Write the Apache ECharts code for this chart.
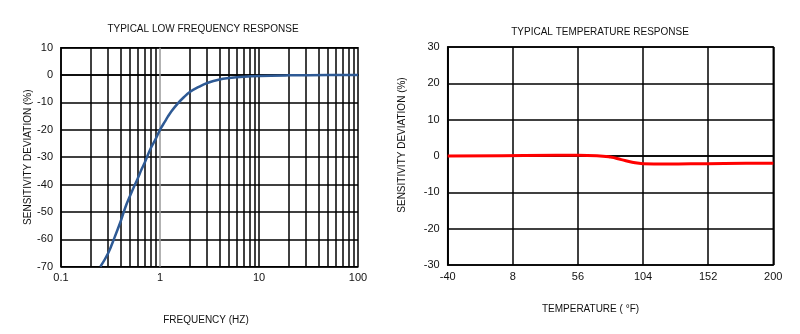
<!DOCTYPE html>
<html><head><meta charset="utf-8">
<script src="https://cdn.jsdelivr.net/npm/echarts@6/dist/echarts.min.js"></script>
<style>html,body{margin:0;padding:0;background:#fff}#c{width:800px;height:334px}</style>
</head><body><div id="c"></div>
<script>
// ---- Data ----
const freqTitle = 'TYPICAL LOW FREQUENCY RESPONSE';
const tempTitle = 'TYPICAL TEMPERATURE RESPONSE';
const freqHz = [0.25, 0.3, 0.35, 0.4, 0.45, 0.5, 0.55, 0.6, 0.65, 0.7, 0.8, 0.9, 1.0, 1.1, 1.2, 1.3, 1.5, 1.75, 2, 2.5, 3, 4, 5, 7, 10, 20, 50, 100];
const freqDev = [-70, -65, -59, -53.5, -48, -44, -40.5, -37.5, -34.5, -32, -27, -23.5, -20, -17.5, -15.2, -13.3, -10.5, -8, -6.2, -4.2, -2.9, -1.6, -1.1, -0.6, -0.3, -0.1, 0, 0];
const tempF = [-40, 0, 40, 56, 70, 80, 88, 96, 104, 120, 152, 180, 200];
const tempDev = [0, 0.1, 0.2, 0.2, 0.1, -0.3, -1.0, -1.7, -2.1, -2.2, -2.1, -2.0, -2.0];
const freqTicks = [0.1, 1, 10, 100];
const tempTicks = [-40, 8, 56, 104, 152, 200];
const TEMP_MIN = -40, TEMP_MAX = 200, TEMP_STEP = 48;

const font = 'Liberation Sans, Arial, sans-serif';
const chart = echarts.init(document.getElementById('c'));

// vertical log grid lines (2..9 of each decade, and the decade lines)
const vLines = [];
[0.1, 1, 10].forEach(d => {
  for (let k = 2; k <= 9; k++) vLines.push({ xAxis: +(d * k).toPrecision(3), lineStyle: { color: '#000', width: 1.5, type: 'solid' } });
});
vLines.push({ xAxis: 1, lineStyle: { color: '#999', width: 1.5, type: 'solid' } });
vLines.push({ xAxis: 10, lineStyle: { color: '#000', width: 1.5, type: 'solid' } });

chart.setOption({
  animation: false,
  backgroundColor: '#fff',
  textStyle: { fontFamily: font },
  title: [
    { text: freqTitle, left: 198, top: 19, textAlign: 'center', textStyle: { fontSize: 10, fontWeight: 'normal', color: '#111', fontFamily: font } },
    { text: tempTitle, left: 595, top: 22, textAlign: 'center', textStyle: { fontSize: 10, fontWeight: 'normal', color: '#111', fontFamily: font } }
  ],
  grid: [
    { left: 61, right: 442, top: 47.7, bottom: 67.3, show: true, borderColor: '#000', borderWidth: 1.5 },
    { left: 447.7, right: 26.7, top: 47, bottom: 69, show: true, borderColor: '#000', borderWidth: 1.5 }
  ],
  xAxis: [
    {
      type: 'log', logBase: 10, gridIndex: 0, min: 0.1, max: 100,
      name: 'FREQUENCY (HZ)', nameLocation: 'middle', nameGap: 49,
      nameTextStyle: { fontSize: 10, color: '#111', fontFamily: font, padding: [0, 7, 0, 0] },
      axisLine: { show: true, lineStyle: { color: '#000', width: 1.5 } },
      axisTick: { show: false },
      splitLine: { show: false },
      axisLabel: { color: '#111', fontSize: 11, margin: 6, fontFamily: font,
        formatter: v => String(+(+v).toPrecision(3)) }
    },
    {
      type: 'value', gridIndex: 1, min: 0, max: TEMP_MAX - TEMP_MIN, interval: TEMP_STEP,
      name: 'TEMPERATURE ( °F)', nameLocation: 'middle', nameGap: 39,
      nameTextStyle: { fontSize: 10, color: '#111', fontFamily: font, padding: [0, 40, 0, 0] },
      axisLine: { show: true, lineStyle: { color: '#000', width: 1.5 } },
      axisTick: { show: false },
      splitLine: { show: true, lineStyle: { color: '#000', width: 1.5 } },
      axisLabel: { color: '#111', fontSize: 11, margin: 6, fontFamily: font,
        formatter: v => String(v + TEMP_MIN) }
    }
  ],
  yAxis: [
    {
      type: 'value', gridIndex: 0, min: -70, max: 10, interval: 10,
      name: 'SENSITIVITY DEVIATION (%)', nameLocation: 'middle', nameGap: 24,
      nameTextStyle: { fontSize: 10, color: '#111', fontFamily: font },
      axisLine: { show: true, lineStyle: { color: '#000', width: 1.5 } },
      axisTick: { show: false },
      splitLine: { show: true, lineStyle: { color: '#000', width: 1.5 } },
      axisLabel: { color: '#111', fontSize: 11, margin: 8, fontFamily: font }
    },
    {
      type: 'value', gridIndex: 1, min: -30, max: 30, interval: 10,
      name: 'SENSITIVITY DEVIATION (%)', nameLocation: 'middle', nameGap: 40,
      nameTextStyle: { fontSize: 10, color: '#111', fontFamily: font, padding: [0, 0, 0, 22] },
      axisLine: { show: true, lineStyle: { color: '#000', width: 1.5 } },
      axisTick: { show: false },
      splitLine: { show: true, lineStyle: { color: '#000', width: 1.5 } },
      axisLabel: { color: '#111', fontSize: 11, margin: 8, fontFamily: font }
    }
  ],
  series: [
    {
      type: 'line', xAxisIndex: 0, yAxisIndex: 0, smooth: 0.4, showSymbol: false,
      data: freqHz.map((f, i) => [f, freqDev[i]]),
      lineStyle: { color: '#2e5a95', width: 2.5 },
      z: 5,
      markLine: { silent: true, symbol: 'none', label: { show: false }, data: vLines, z: 1 }
    },
    {
      type: 'line', xAxisIndex: 1, yAxisIndex: 1, smooth: true, showSymbol: false,
      data: tempF.map((t, i) => [t - TEMP_MIN, tempDev[i]]),
      lineStyle: { color: '#ff0000', width: 3 },
      z: 5
    }
  ]
});
</script>
</body></html>
